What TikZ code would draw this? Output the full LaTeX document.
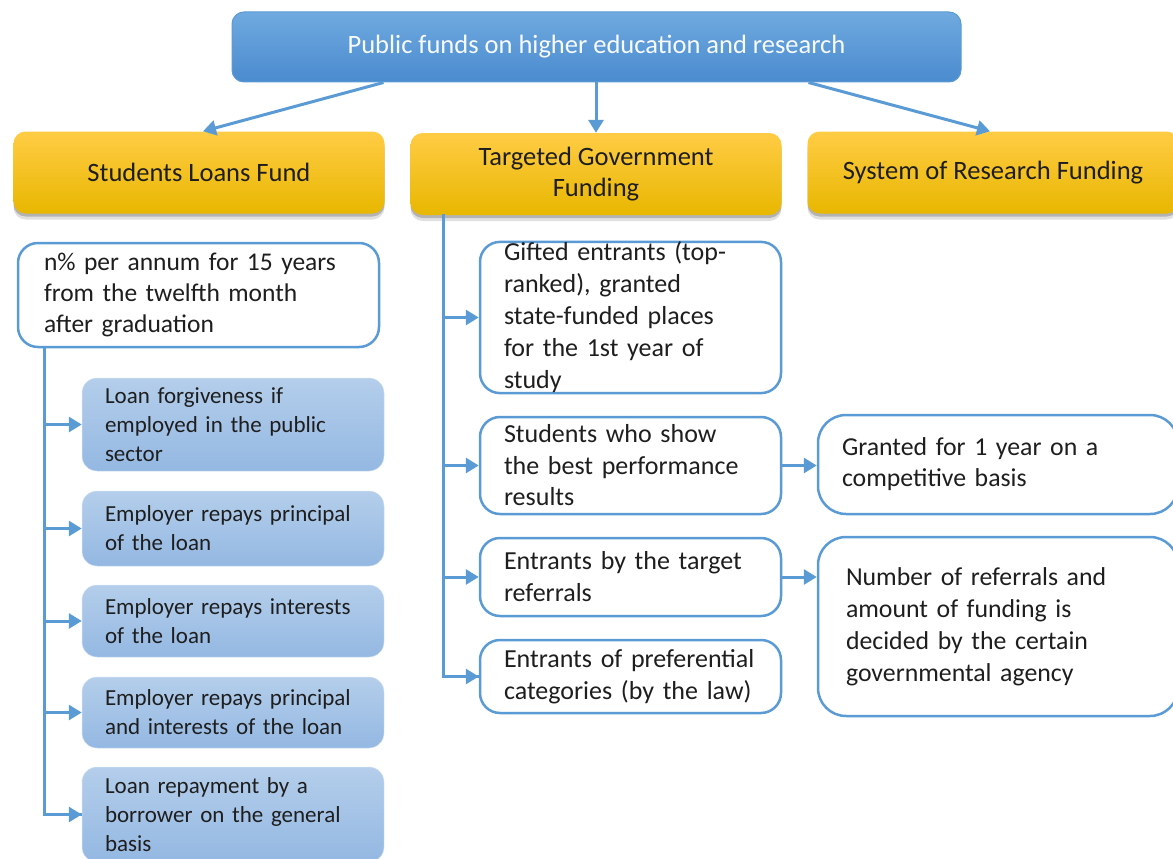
\documentclass[tikz,border=0pt]{standalone}
\usepackage{fontspec}
\setmainfont{Carlito}
\usetikzlibrary{arrows.meta,shadows}
\definecolor{lineblue}{HTML}{5B9BD5}
\definecolor{txt}{HTML}{1E1E1E}
\definecolor{headtop}{HTML}{6FA9DF}
\definecolor{headbot}{HTML}{4A8BCF}
\definecolor{fundtop}{HTML}{FFCC45}
\definecolor{fundmid}{HTML}{FFC107}
\definecolor{fundbot}{HTML}{E8B700}
\definecolor{opttop}{HTML}{B4CEEB}
\definecolor{optbot}{HTML}{94B8E2}

\begin{document}
\begin{tikzpicture}
[x=1pt, y=-1pt,
every node/.style={font=\fontsize{26}{32}\selectfont, text=txt},
head/.style={rounded corners=12pt, draw=lineblue, line width=1pt, top color=headtop, bottom color=headbot,
  text=white!95!headtop, minimum width=729pt, minimum height=70pt, font=\fontsize{26.5}{32}\selectfont},
fund/.style={rounded corners=12pt, top color=fundtop, middle color=fundmid, bottom color=fundbot,
  drop shadow={shadow xshift=0pt, shadow yshift=-6pt, opacity=0.12, fill=black},
  drop shadow={shadow xshift=0pt, shadow yshift=-3pt, opacity=0.2, fill=black},
  align=center, minimum width=371pt, minimum height=82pt, font=\fontsize{26.5}{31}\selectfont},
cond/.style={rounded corners=20pt, draw=lineblue, line width=2.5pt, fill=white, align=left,
  inner xsep=24pt, text width=253pt},
opt/.style={rounded corners=15pt, top color=opttop, bottom color=optbot, draw=opttop!60!white, line width=0.5pt,
  align=left, inner xsep=23pt, text width=256pt, font=\fontsize{23}{29}\selectfont},
note/.style={rounded corners=28pt, draw=lineblue, line width=2.5pt, fill=white, align=left,
  inner xsep=24pt, text width=312pt, font=\fontsize{25.8}{31}\selectfont},
arr/.style={draw=lineblue, line width=3pt, -{Triangle[length=13pt,width=15pt]}},
spine/.style={draw=lineblue, line width=3pt}]

\useasboundingbox (0,0) rectangle (1173,859);

% top level
\node[head] (pub) at (596.5,47) {Public funds on higher education and research};

\node[fund] (loans) at (199,172.5) {Students Loans Fund};
\node[fund] (target) at (596,174) {Targeted Government\\Funding};
\node[fund] (research) at (993,172.5) {System of Research Funding};

\draw[arr] ([xshift=-213pt]pub.south) -- ([xshift=4pt]loans.north);
\draw[arr] (pub.south -| target.north) -- (target.north);
\draw[arr] ([xshift=212pt]pub.south) -- ([xshift=-3pt]research.north);

% loans fund
\node[cond, text width=309pt, inner xsep=26pt, minimum height=104pt, font=\fontsize{25.5}{31}\selectfont] (terms) at (198.5,295)
  {n\% per annum for 15 years\\from the twelfth month\\after graduation};

\node[opt, minimum height=93pt] (b1) at (233,424.5) {Loan forgiveness if\\employed in the public\\sector};
\node[opt, minimum height=75pt] (b2) at (233,528.5) {Employer repays principal\\of the loan};
\node[opt, minimum height=72pt] (b3) at (233,621) {Employer repays interests\\of the loan};
\node[opt, minimum height=71pt] (b4) at (233,712.5) {Employer repays principal\\and interests of the loan};
\node[opt, minimum height=95pt] (b5) at (233,814.5) {Loan repayment by a\\borrower on the general\\basis};

\coordinate (lspine) at (44,347);
\draw[spine] (lspine) |- (b5.west);
\foreach \b in {b1,b2,b3,b4,b5}
  \draw[arr] (lspine |- \b.west) -- (\b.west);

% targeted funding
\node[cond, minimum height=151pt, inner ysep=0pt] (m1) at (630.5,317.5)
  {Gifted entrants (top-\\ranked), granted\\state-funded places\\for the 1st year of\\study};
\node[cond, minimum height=97pt, font=\fontsize{26}{31.5}\selectfont] (m2) at (630.5,465.5) {Students who show\\the best performance\\results};
\node[cond, minimum height=78pt] (m3) at (630.5,577) {Entrants by the target\\referrals};
\node[cond, minimum height=73pt] (m4) at (630.5,676.5) {Entrants of preferential\\categories (by the law)};

\coordinate (mspine) at (443,214);
\draw[spine] (mspine) |- (m4.west);
\foreach \m in {m1,m2,m3,m4}
  \draw[arr] (mspine |- \m.west) -- (\m.west);

\node[note, minimum height=99pt] (r1) at (998,464.5) {Granted for 1 year on a\\competitive basis};
\node[note, minimum height=179pt, inner xsep=28pt, text width=304pt, font=\fontsize{25.8}{32}\selectfont] (r2) at (998,626.5)
  {Number of referrals and\\amount of funding is\\decided by the certain\\governmental agency};

\draw[arr] (m2.east) -- (m2.east -| r1.west);
\draw[arr] (m3.east) -- (m3.east -| r2.west);

\end{tikzpicture}
\end{document}
